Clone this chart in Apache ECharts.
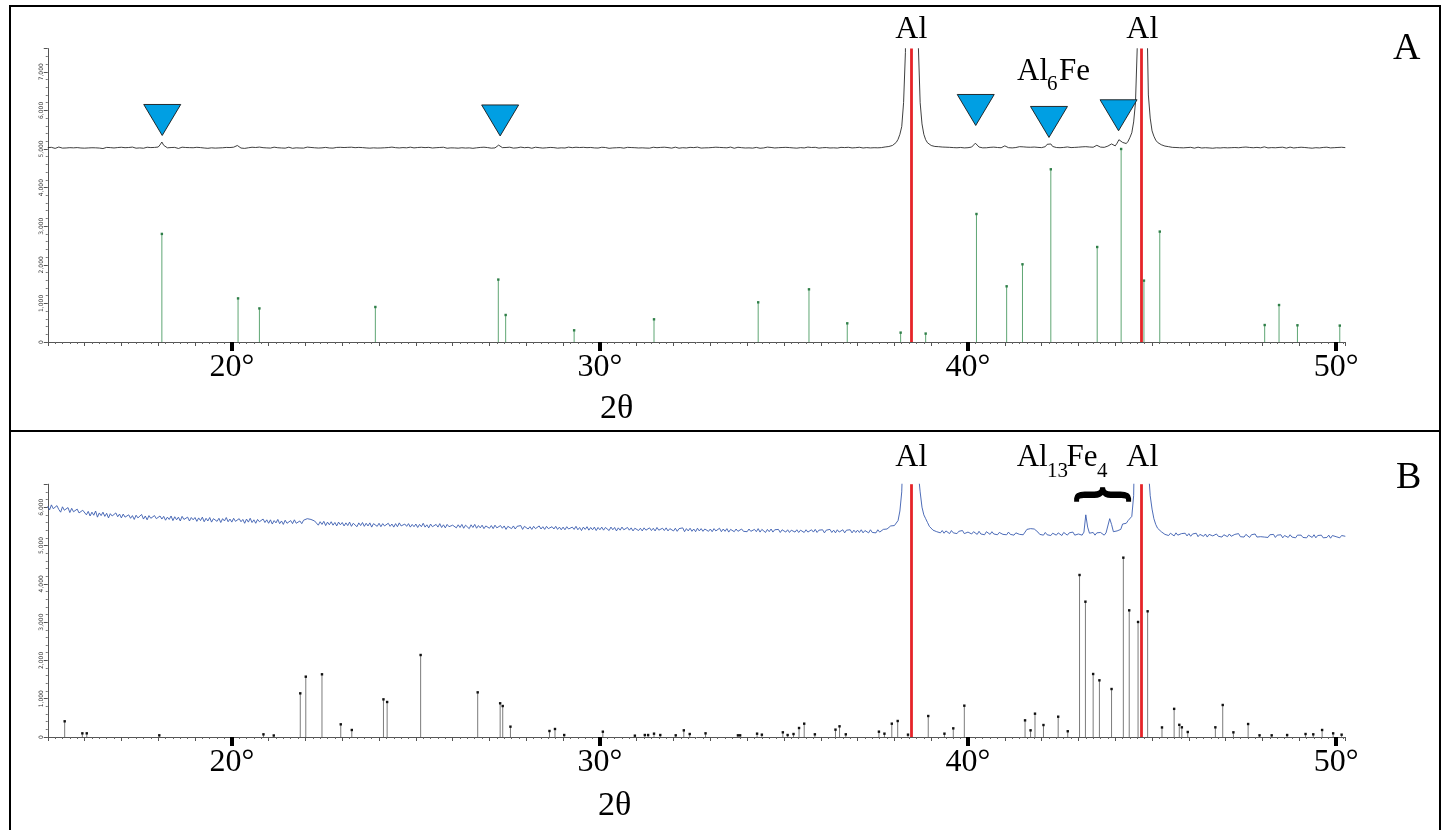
<!DOCTYPE html>
<html><head><meta charset="utf-8">
<script src="https://cdn.jsdelivr.net/npm/echarts@6/dist/echarts.min.js"></script>
<style>html,body{margin:0;padding:0;background:#fff}#c{width:1443px;height:830px}</style>
</head><body><div id="c"></div>
<script>
// ---------- data ----------
const ANGLE_START = 15.0;   // first 2θ sample of both scans
const ANGLE_STEP = 0.05;    // scan step (°)

// Panel A scan intensities (one row = 1°)
const scanA = [
5035,5020,5042,5028,5015,5038,5050,5031,5022,5040,5026,5012,5034,5047,5029,5018,5036,5044,5025,5033,
5021,5039,5027,5046,5032,5017,5030,5043,5024,5036,5011,5029,5041,5023,5035,5048,5026,5019,5037,5030,
5044,5025,5033,5016,5038,5027,5049,5032,5020,5035,5028,5042,5019,5031,5045,5024,5036,5029,5040,5048,
5050,5105,5180,5095,5045,5030,5018,5037,5026,5041,5029,5013,5034,5046,5022,5038,5027,5035,5019,5032,
5028,5043,5021,5036,5049,5025,5033,5017,5039,5030,5044,5022,5035,5027,5048,5031,5019,5040,5026,5037,
5029,5046,5060,5090,5052,5024,5036,5015,5042,5031,5027,5045,5020,5038,5033,5049,5023,5034,5041,5028,
5040,5023,5035,5047,5019,5032,5044,5026,5038,5021,5033,5046,5028,5017,5039,5030,5043,5025,5036,5022,
5034,5048,5027,5039,5020,5031,5045,5024,5037,5029,5016,5041,5033,5026,5047,5022,5035,5040,5028,5043,
5025,5037,5018,5042,5030,5046,5023,5034,5028,5041,5019,5036,5048,5027,5032,5021,5044,5029,5038,5024,
5039,5026,5045,5031,5020,5037,5029,5048,5022,5034,5041,5027,5015,5036,5043,5030,5024,5047,5033,5028,
5021,5038,5030,5044,5026,5035,5018,5042,5031,5025,5047,5033,5022,5039,5028,5045,5034,5019,5037,5029,
5043,5027,5036,5020,5041,5032,5048,5024,5035,5029,5038,5017,5044,5030,5026,5040,5023,5046,5031,5036,
5032,5021,5044,5028,5075,5100,5062,5035,5019,5038,5027,5046,5031,5022,5040,5029,5037,5048,5024,5033,
5026,5042,5030,5019,5037,5045,5028,5034,5047,5023,5039,5031,5016,5040,5027,5035,5044,5021,5038,5030,
5041,5025,5036,5048,5022,5033,5029,5045,5018,5037,5030,5043,5026,5034,5020,5039,5047,5028,5035,5024,
5030,5044,5023,5038,5031,5017,5040,5027,5046,5032,5025,5036,5049,5021,5034,5042,5028,5037,5019,5033,
5039,5026,5043,5030,5048,5024,5035,5021,5037,5045,5028,5033,5019,5041,5030,5046,5025,5036,5032,5022,
5036,5047,5029,5020,5038,5033,5044,5026,5031,5042,5018,5035,5027,5048,5034,5023,5040,5029,5045,5031,
5024,5038,5033,5046,5027,5040,5021,5035,5043,5030,5026,5049,5032,5018,5037,5044,5028,5034,5041,5025,
5037,5029,5045,5022,5034,5041,5030,5019,5043,5027,5036,5048,5023,5039,5031,5026,5046,5033,5020,5038,
5030,5042,5025,5036,5047,5028,5033,5021,5040,5035,5044,5027,5031,5049,5024,5038,5029,5043,5034,5022,
5041,5033,5020,5037,5045,5026,5039,5030,5048,5023,5035,5042,5028,5036,5019,5044,5031,5027,5040,5034,
5029,5044,5032,5025,5040,5036,5047,5027,5038,5033,5042,5030,5045,5036,5048,5052,5058,5064,5075,5092,
5110,5170,5250,5380,5580,6200,7500,14000,40000,45000,40000,25000,12000,7700,6200,5650,5380,5240,5160,5120,
5090,5075,5065,5055,5060,5045,5050,5038,5046,5030,5042,5027,5036,5048,5031,5022,5039,5044,5028,5035,
5033,5045,5050,5090,5150,5100,5050,5036,5029,5044,5031,5025,5042,5035,5048,5027,5038,5040,5032,5046,
5080,5050,5034,5042,5028,5045,5037,5052,5060,5090,5055,5038,5047,5031,5044,5036,5050,5029,5041,5046,
5035,5048,5060,5120,5170,5130,5065,5042,5038,5051,5033,5046,5040,5029,5053,5044,5036,5049,5041,5058,
5047,5039,5055,5043,5060,5036,5051,5064,5045,5072,5095,5070,5048,5058,5042,5066,5075,5090,5130,5095,
5080,5150,5240,5210,5170,5150,5140,5200,5300,5420,5700,6200,7700,20000,45000,45000,30000,9000,6400,5800,
5470,5330,5230,5170,5140,5110,5090,5075,5065,5060,5050,5042,5056,5038,5047,5033,5045,5029,5040,5036,
5028,5043,5034,5021,5039,5046,5030,5025,5041,5033,5048,5027,5036,5019,5044,5031,5038,5026,5042,5035,
5040,5029,5047,5033,5022,5038,5045,5031,5026,5043,5035,5050,5028,5039,5046,5032,5024,5041,5037,5030,
5044,5055,5038,5027,5049,5036,5042,5031,5053,5040,5029,5046,5035,5022,5039,5048,5033,5026,5043,5037,
5031,5045,5024,5038,5047,5029,5036,5020,5042,5033,5049,5027,5035,5040,5023,5046,5032,5028,5041,5034,
5026,5039,5030,5044,5028,5035
];

// Panel B scan intensities (one row = 1°)
const scanB = [
6030,5930,6060,5960,5910,6040,5940,5870,6010,5920,5890,5990,5860,5970,5880,5840,5950,5850,5820,5920,
5900,5800,5890,5770,5870,5790,5900,5740,5850,5780,5870,5760,5840,5720,5830,5770,5740,5850,5750,5820,
5720,5820,5740,5690,5800,5710,5780,5680,5790,5720,5700,5810,5690,5770,5670,5780,5710,5680,5780,5700,
5670,5770,5690,5760,5660,5740,5680,5770,5650,5750,5670,5740,5640,5760,5680,5660,5740,5640,5730,5670,
5730,5630,5720,5650,5740,5620,5710,5640,5730,5610,5700,5720,5630,5710,5600,5700,5640,5730,5620,5690,
5610,5710,5630,5590,5700,5620,5680,5580,5690,5610,5710,5600,5670,5580,5680,5620,5590,5690,5600,5670,
5580,5670,5560,5650,5590,5680,5570,5640,5550,5660,5580,5560,5650,5570,5670,5580,5550,5640,5570,5660,
5640,5700,5720,5680,5710,5640,5600,5530,5620,5550,5630,5520,5610,5540,5620,5530,5600,5510,5610,5540,
5600,5510,5590,5520,5610,5500,5580,5530,5490,5590,5520,5600,5500,5580,5510,5590,5480,5570,5520,5500,
5580,5490,5570,5510,5470,5580,5500,5560,5480,5570,5490,5590,5510,5470,5560,5500,5570,5480,5550,5490,
5560,5470,5550,5490,5580,5480,5540,5460,5560,5490,5470,5550,5480,5570,5470,5540,5460,5550,5490,5470,
5530,5560,5460,5540,5470,5550,5450,5530,5480,5440,5540,5470,5550,5450,5520,5460,5530,5440,5510,5540,
5450,5520,5440,5530,5460,5430,5520,5450,5510,5420,5500,5530,5440,5510,5430,5500,5450,5520,5420,5500,
5510,5430,5490,5420,5500,5440,5410,5510,5430,5490,5420,5500,5440,5400,5490,5430,5500,5420,5480,5410,
5480,5410,5490,5430,5400,5480,5420,5500,5410,5470,5390,5480,5420,5490,5400,5470,5410,5480,5390,5470,
5410,5480,5400,5470,5420,5390,5480,5410,5470,5380,5460,5400,5480,5410,5390,5470,5400,5460,5380,5450,
5470,5390,5450,5380,5460,5400,5370,5460,5390,5450,5380,5470,5400,5370,5450,5390,5460,5380,5440,5450,
5380,5450,5370,5440,5390,5460,5360,5440,5380,5450,5370,5430,5360,5450,5380,5440,5370,5430,5450,5370,
5430,5360,5440,5380,5370,5450,5360,5430,5370,5440,5350,5420,5440,5360,5430,5370,5350,5430,5370,5420,
5360,5430,5370,5350,5420,5360,5440,5350,5420,5370,5340,5420,5360,5430,5350,5410,5360,5420,5340,5410,
5420,5350,5410,5340,5400,5430,5350,5410,5340,5400,5420,5340,5410,5350,5330,5410,5350,5420,5340,5400,
5350,5410,5330,5400,5350,5420,5340,5400,5330,5410,5350,5340,5410,5330,5400,5350,5410,5330,5400,5340,
5400,5340,5410,5330,5390,5400,5330,5410,5340,5390,5330,5410,5350,5400,5420,5460,5430,5480,5510,5480,
5520,5560,5650,5900,6400,8000,15000,30000,35000,35000,30000,25000,12000,6900,6400,6000,5800,5700,5600,5500,
5450,5400,5410,5360,5410,5330,5390,5320,5380,5340,5310,5390,5330,5380,5310,5370,5320,5390,5310,5360,
5350,5370,5300,5360,5310,5290,5370,5300,5350,5280,5360,5310,5290,5360,5300,5350,5280,5340,5360,5290,
5340,5280,5350,5290,5340,5270,5330,5350,5290,5340,5280,5350,5420,5460,5440,5470,5430,5400,5350,5290,
5330,5270,5340,5280,5330,5260,5320,5340,5270,5330,5280,5260,5340,5290,5270,5330,5280,5350,5270,5320,
5300,5330,5270,5350,5800,5480,5320,5290,5340,5270,5330,5290,5340,5300,5270,5330,5360,5700,5550,5360,
5340,5380,5370,5420,5560,5600,5580,5650,5700,5760,6300,9000,30000,35000,35000,35000,30000,14000,7000,6300,
5950,5700,5550,5450,5400,5360,5310,5290,5340,5260,5320,5270,5250,5330,5270,5240,5310,5260,5320,5250,
5310,5240,5300,5250,5320,5230,5290,5310,5240,5300,5220,5290,5310,5250,5230,5300,5240,5290,5220,5280,
5290,5230,5300,5240,5220,5290,5240,5310,5230,5280,5220,5290,5240,5210,5280,5230,5300,5220,5270,5230,
5280,5220,5270,5210,5280,5230,5290,5210,5270,5220,5280,5200,5260,5270,5210,5280,5220,5260,5200,5270,
5230,5270,5210,5260,5200,5270,5220,5210,5280,5200,5260,5220,5270,5200,5250,5210,5270,5190,5260,5210,
5230,5270,5200,5260,5210,5240
];

// Reference pattern sticks, panel A (Al6Fe)
const refAAngle = [18.10,20.17,20.75,23.90,27.24,27.44,29.30,31.47,34.30,35.68,36.72,38.17,38.85,40.23,41.05,41.48,42.25,43.51,44.16,44.78,45.21,48.06,48.45,48.95,50.10];
const refAInt   = [2800,1130,870,907,1617,700,303,588,1028,1365,484,243,218,3316,1443,2013,4474,2461,5000,1590,2860,440,958,433,425];

// Reference pattern sticks, panel B (Al13Fe4)
const refBAngle = [15.46,15.94,16.06,18.03,20.86,21.14,21.86,22.01,22.45,22.96,23.26,24.12,24.22,25.13,26.68,27.29,27.36,27.57,28.63,28.78,29.03,30.08,30.95,31.22,31.31,31.47,31.64,32.06,32.28,32.44,32.87,33.75,33.81,34.27,34.40,34.97,35.10,35.26,35.41,35.55,35.84,36.40,36.51,36.68,37.58,37.73,37.93,38.09,38.37,38.92,39.36,39.60,39.90,41.55,41.70,41.82,42.05,42.45,42.71,43.03,43.19,43.40,43.57,43.90,44.22,44.38,44.62,44.88,45.27,45.60,45.74,45.81,45.97,46.72,46.92,47.21,47.61,47.92,48.25,48.67,49.17,49.38,49.62,49.92,50.15];
const refBInt   = [410,96,96,44,70,40,1140,1575,1637,331,183,983,914,2141,1166,880,809,270,157,209,52,139,35,52,52,87,52,44,174,78,96,44,44,87,61,122,52,78,235,348,70,192,279,70,139,87,348,418,61,548,87,226,818,435,174,609,313,530,150,4230,3533,1645,1480,1253,4682,3307,3003,3282,250,735,318,253,131,253,836,122,339,44,44,52,78,70,183,96,61];

// Al reflections (red lines), both panels
const alAngles = [38.46, 44.72];

// Triangle markers (Al6Fe peaks) in panel A
const markAngle = [18.11, 27.29, 40.21, 42.20, 44.09];
const markInt   = [5751, 5739, 6010, 5700, 5873];

// Axis ticks/labels
const xMajor = [20, 30, 40, 50];
const X_MIN = 15, X_MAX = 50.25;
const Y_MAX_A = 7600, Y_MAX_B = 6600;

// ---------- build ----------
function toPairs(arr){ return arr.map((v,i)=>[Math.round((ANGLE_START + i*ANGLE_STEP)*100)/100, v]); }
function zip(a,b){ return a.map((x,i)=>[x,b[i]]); }

const SERIF = '"Liberation Serif", "Times New Roman", serif';

function stickRenderer(lineColor, dotColor){
  return function(params, api){
    const x = api.value(0), v = api.value(1);
    const p0 = api.coord([x, 0]);
    const p1 = api.coord([x, v]);
    return {type:'group', children:[
      {type:'line', shape:{x1:p0[0], y1:p0[1], x2:p1[0], y2:p1[1]}, style:{stroke:lineColor, lineWidth:1}},
      {type:'rect', shape:{x:p1[0]-1.2, y:p1[1]-1.2, width:2.4, height:2.4}, style:{fill:dotColor}}
    ]};
  };
}

function xAxesFor(grid){
  return [
    {gridIndex:grid, type:'value', min:X_MIN, max:X_MAX, interval:1, position:'bottom',
     axisLine:{show:true, onZero:false, lineStyle:{color:'#555', width:1}},
     axisTick:{show:true, length:4, lineStyle:{color:'#555', width:1}},
     minorTick:{show:true, splitNumber:5, length:2, lineStyle:{color:'#666', width:1}},
     axisLabel:{show:false}, splitLine:{show:false}, minorSplitLine:{show:false}},
    {gridIndex:grid, type:'value', min:X_MIN, max:X_MAX, position:'bottom', offset:4.5,
     axisLine:{show:false},
     axisTick:{show:true, customValues:xMajor, length:9, lineStyle:{color:'#000', width:4}},
     axisLabel:{show:true, customValues:xMajor, formatter: v => v + '°', margin:5,
                fontSize:32, fontFamily:SERIF, color:'#000'},
     splitLine:{show:false}}
  ];
}
function yAxisFor(grid, max){
  return {gridIndex:grid, type:'value', min:0, max:max, interval:1000,
    axisLine:{show:true, lineStyle:{color:'#555', width:1}},
    axisTick:{show:true, length:4, lineStyle:{color:'#555'}},
    minorTick:{show:true, splitNumber:5, length:2, lineStyle:{color:'#777'}},
    axisLabel:{show:true, rotate:90, fontSize:6, color:'#333', margin:3, showMaxLabel:false,
               fontFamily:'"DejaVu Sans", sans-serif'},
    splitLine:{show:false}, minorSplitLine:{show:false}};
}

const redMark = {
  silent:true, symbol:['none','none'], label:{show:false},
  lineStyle:{color:'#e62429', width:2.8, type:'solid', opacity:1},
  emphasis:{disabled:true},
  data: alAngles.map(a => ({xAxis:a}))
};

function txt(text, x, y, size, align, extra){
  return Object.assign({type:'text', x:x, y:y, silent:true, style:{
    text:text, fill:'#000', font: size + 'px ' + SERIF,
    align:align, textAlign:align, verticalAlign:'middle', textVerticalAlign:'middle'}}, extra||{});
}

const option = {
  animation:false,
  backgroundColor:'#fff',
  grid:[
    {left:47.75, right:97.7, top:48.6, bottom:488, outerBoundsMode:'none'},
    {left:47.75, right:97.7, top:484.2, bottom:93, outerBoundsMode:'none'}
  ],
  xAxis: xAxesFor(0).concat(xAxesFor(1)),
  yAxis: [yAxisFor(0, Y_MAX_A), yAxisFor(1, Y_MAX_B)],
  series:[
    {type:'custom', name:'refA', xAxisIndex:0, yAxisIndex:0, z:2, data:zip(refAAngle, refAInt),
     renderItem: stickRenderer('#5fa674', '#2f7f48'), silent:true},
    {type:'line', name:'scanA', xAxisIndex:0, yAxisIndex:0, z:3, data:toPairs(scanA),
     showSymbol:false, symbol:'none', clip:true, silent:true,
     lineStyle:{color:'#2a2a2a', width:0.9}, markLine:redMark},
    {type:'scatter', name:'markers', xAxisIndex:0, yAxisIndex:0, z:6, data:zip(markAngle, markInt),
     symbol:'triangle', symbolRotate:180, symbolSize:[37,31], clip:false, silent:true,
     itemStyle:{color:'#009fe3', borderColor:'#1a1a1a', borderWidth:0.9, opacity:1}},
    {type:'custom', name:'refB', xAxisIndex:2, yAxisIndex:1, z:2, data:zip(refBAngle, refBInt),
     renderItem: stickRenderer('#7c7c7c', '#111'), silent:true},
    {type:'line', name:'scanB', xAxisIndex:2, yAxisIndex:1, z:3, data:toPairs(scanB),
     showSymbol:false, symbol:'none', clip:true, silent:true,
     lineStyle:{color:'#3a5cb0', width:0.9}, markLine:redMark}
  ],
  graphic:[
    {type:'rect', silent:true, shape:{x:10, y:6, width:1430, height:425},
     style:{fill:'none', stroke:'#000', lineWidth:2}},
    {type:'polyline', silent:true, shape:{points:[[10,845],[10,431],[1440,431],[1440,845]]},
     style:{fill:'none', stroke:'#000', lineWidth:2}},
    // panel A texts
    txt('Al', 911.3, 29.1, 32, 'center'),
    txt('Al', 1142.3, 29.1, 32, 'center'),
    txt('Al', 1017, 72.2, 31, 'left'),
    txt('6', 1047, 84.9, 21, 'left'),
    txt('Fe', 1059, 72.2, 31, 'left'),
    txt('A', 1393, 49.1, 38, 'left'),
    txt('2θ', 600, 409.4, 34, 'left'),
    // panel B texts
    txt('Al', 911.3, 457.4, 32, 'center'),
    txt('Al', 1142.3, 457.4, 32, 'center'),
    txt('Al', 1016.7, 457.8, 31, 'left'),
    txt('13', 1047, 471.9, 21, 'left'),
    txt('Fe', 1066.5, 457.8, 31, 'left'),
    txt('4', 1097, 471.9, 21, 'left'),
    txt('B', 1396, 478.1, 38, 'left'),
    txt('2θ', 598, 806.4, 34, 'left'),
    // brace over Al13Fe4 peaks
    {type:'text', x:1101, y:494.5, rotation:-Math.PI/2, scaleX:0.62, silent:true,
     style:{text:'{', fill:'#000', stroke:'#000', lineWidth:2.2, font:'bold 66px ' + SERIF,
            align:'center', textAlign:'center', verticalAlign:'middle', textVerticalAlign:'middle'}}
  ]
};

const chart = echarts.init(document.getElementById('c'), null, {renderer:'canvas'});
chart.setOption(option);
</script>
</body></html>
